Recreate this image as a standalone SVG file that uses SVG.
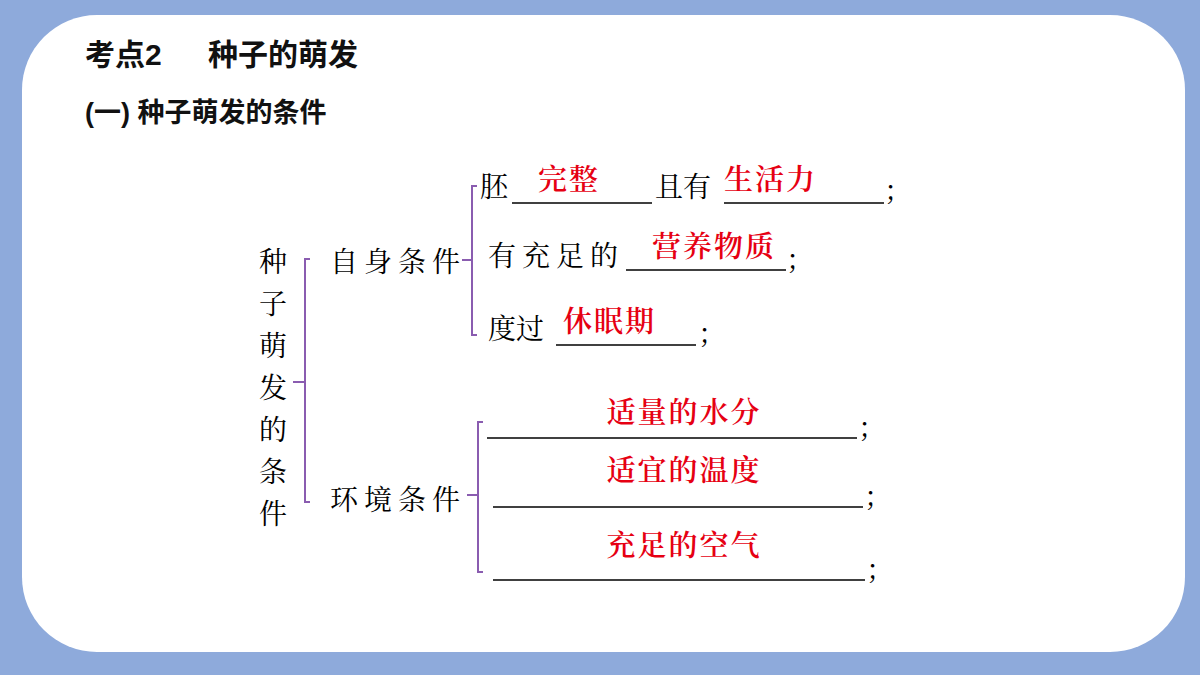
<svg xmlns="http://www.w3.org/2000/svg" width="1200" height="675" viewBox="0 0 1200 675">
<style>
.t{font-family:"Noto Serif CJK SC","Noto Sans CJK SC",serif;font-size:28px;fill:#000}
.r{font-family:"Noto Serif CJK SC","Noto Sans CJK SC",serif;font-size:29px;fill:#e60012;font-weight:600;letter-spacing:2px}
.h{font-family:"Liberation Sans","Noto Sans CJK SC",sans-serif;font-weight:bold;fill:#111}
.b{fill:none;stroke:#8a5cb0;stroke-width:2}
.u{stroke:#000;stroke-width:1.5}
</style>
<rect width="1200" height="675" fill="#8eaadb"/>
<rect x="22" y="15" width="1163" height="637" rx="75" fill="#fff"/>
<text class="h" x="85" y="65" font-size="30">考点2<tspan x="208">种子的萌发</tspan></text>
<text class="h" x="85" y="122" font-size="27">(一) 种子萌发的条件</text>
<g id="root"><text class="t" text-anchor="middle" x="273"><tspan x="273" y="272">种</tspan><tspan x="273" y="314">子</tspan><tspan x="273" y="356">萌</tspan><tspan x="273" y="398">发</tspan><tspan x="273" y="440">的</tspan><tspan x="273" y="482">条</tspan><tspan x="273" y="524">件</tspan></text></g>
<g id="self"><text class="t" x="330" y="272" letter-spacing="6">自身条件</text></g>
<g id="env"><text class="t" x="330" y="510" letter-spacing="6">环境条件</text></g>
<g id="connectors">
<path class="b" d="M310 259H305V502H310M293 382H305"/>
<path class="b" d="M477 186H472V335H477M462 260H472"/>
<path class="b" d="M483 422H478V572H483M467 495H478"/>
</g>
<g id="s1"><text class="t" x="480" y="197">胚</text><line class="u" x1="512" y1="203" x2="652" y2="203"/><text class="r" x="538" y="190">完整</text><text class="t" x="655" y="197">且有</text><line class="u" x1="724" y1="203" x2="884" y2="203"/><text class="r" x="724" y="190">生活力</text><text class="t" x="886" y="199">;</text></g>
<g id="s2"><text class="t" x="488" y="266" letter-spacing="6">有充足的</text><line class="u" x1="626" y1="270" x2="786" y2="270"/><text class="r" x="652" y="257">营养物质</text><text class="t" x="788" y="268">;</text></g>
<g id="s3"><text class="t" x="488" y="339">度过</text><line class="u" x1="556" y1="345" x2="696" y2="345"/><text class="r" x="563" y="332">休眠期</text><text class="t" x="700" y="342">;</text></g>
<g id="e1"><line class="u" x1="487" y1="438" x2="857" y2="438"/><text class="r" x="684" y="423" font-size="34" letter-spacing="8" text-anchor="middle">适量的水分</text><text class="t" x="860" y="436">;</text></g>
<g id="e2"><line class="u" x1="493" y1="507" x2="863" y2="507"/><text class="r" x="684" y="481" font-size="34" letter-spacing="8" text-anchor="middle">适宜的温度</text><text class="t" x="866" y="505">;</text></g>
<g id="e3"><line class="u" x1="493" y1="580" x2="865" y2="580"/><text class="r" x="684" y="556" font-size="34" letter-spacing="8" text-anchor="middle">充足的空气</text><text class="t" x="868" y="578">;</text></g>
</svg>
